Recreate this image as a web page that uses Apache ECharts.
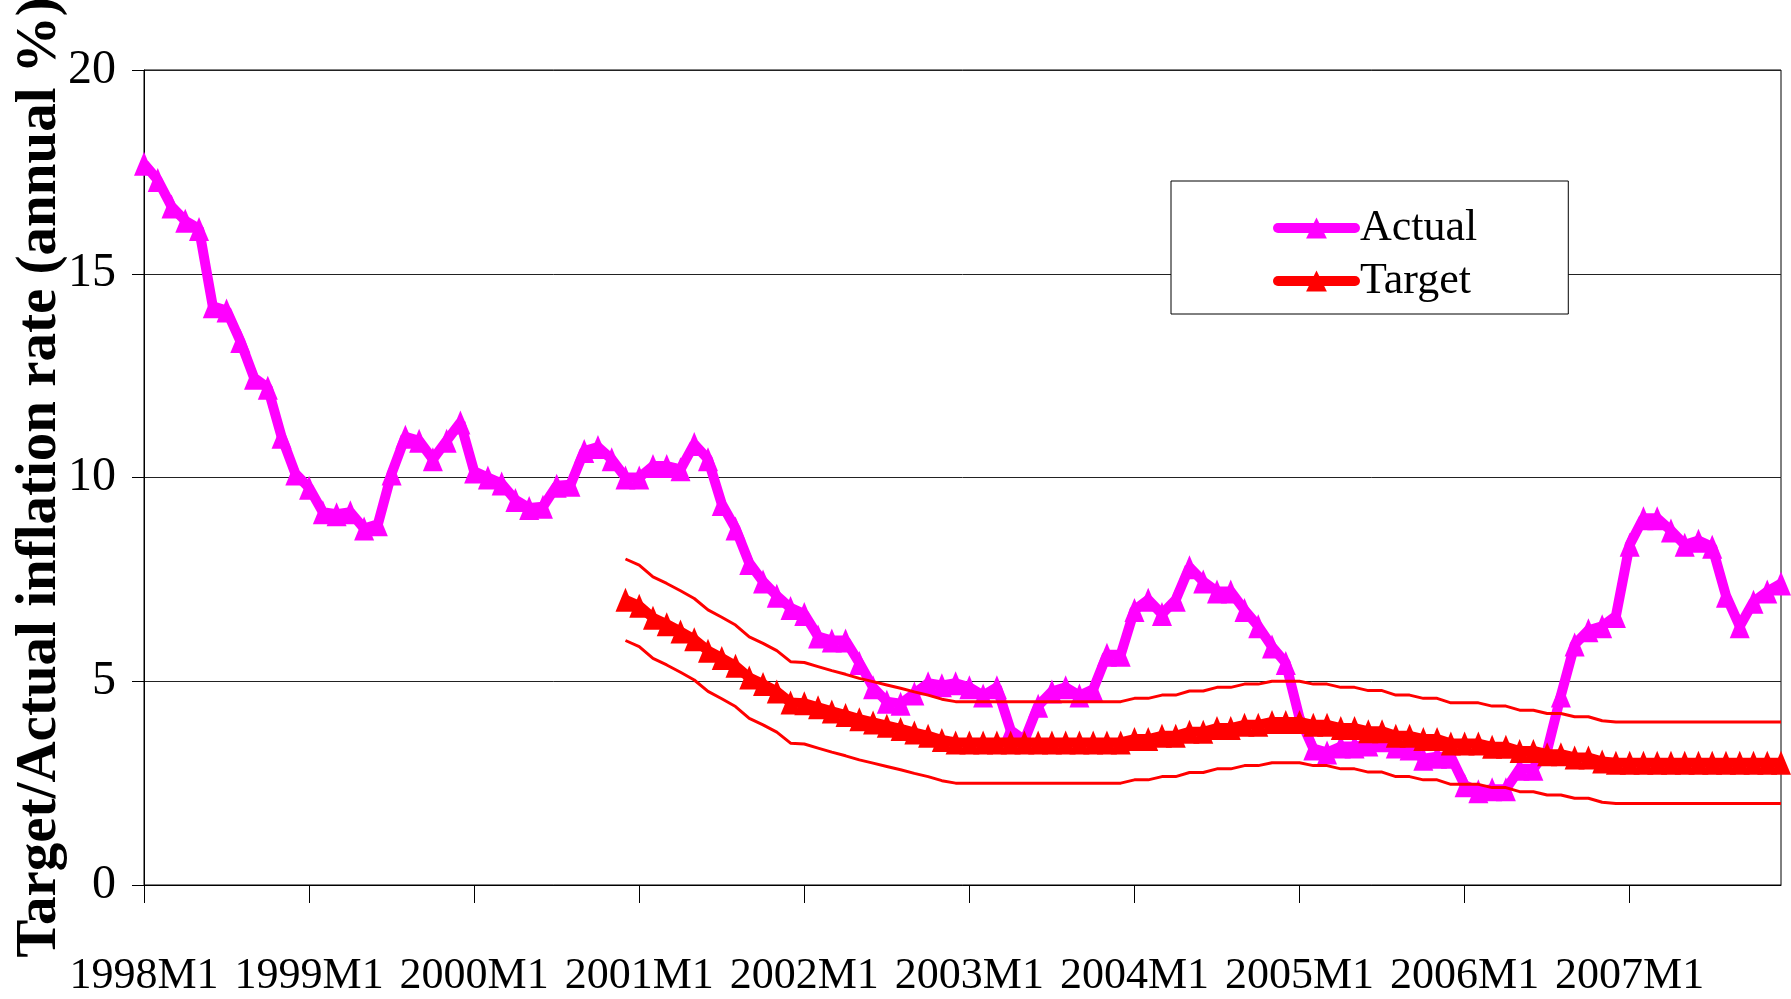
<!DOCTYPE html>
<html>
<head>
<meta charset="utf-8">
<script src="https://cdn.jsdelivr.net/npm/echarts@6/dist/echarts.min.js"></script>
<style>
html,body{margin:0;padding:0;background:#fff;}
#chart{width:1791px;height:999px;}
</style>
</head>
<body>
<div id="chart"></div>
<script>
const categories = [
 '1998M1','1998M2','1998M3','1998M4','1998M5','1998M6','1998M7','1998M8','1998M9','1998M10','1998M11','1998M12',
 '1999M1','1999M2','1999M3','1999M4','1999M5','1999M6','1999M7','1999M8','1999M9','1999M10','1999M11','1999M12',
 '2000M1','2000M2','2000M3','2000M4','2000M5','2000M6','2000M7','2000M8','2000M9','2000M10','2000M11','2000M12',
 '2001M1','2001M2','2001M3','2001M4','2001M5','2001M6','2001M7','2001M8','2001M9','2001M10','2001M11','2001M12',
 '2002M1','2002M2','2002M3','2002M4','2002M5','2002M6','2002M7','2002M8','2002M9','2002M10','2002M11','2002M12',
 '2003M1','2003M2','2003M3','2003M4','2003M5','2003M6','2003M7','2003M8','2003M9','2003M10','2003M11','2003M12',
 '2004M1','2004M2','2004M3','2004M4','2004M5','2004M6','2004M7','2004M8','2004M9','2004M10','2004M11','2004M12',
 '2005M1','2005M2','2005M3','2005M4','2005M5','2005M6','2005M7','2005M8','2005M9','2005M10','2005M11','2005M12',
 '2006M1','2006M2','2006M3','2006M4','2006M5','2006M6','2006M7','2006M8','2006M9','2006M10','2006M11','2006M12',
 '2007M1','2007M2','2007M3','2007M4','2007M5','2007M6','2007M7','2007M8','2007M9','2007M10','2007M11','2007M12'
];

// Actual inflation, 1998M1 .. 2007M12
const actual = [
 17.7,17.3,16.65,16.3,16.1,14.2,14.1,13.35,12.45,12.2,11.0,10.1,
 9.75,9.15,9.1,9.15,8.75,8.85,10.1,11.0,10.9,10.45,10.9,11.35,
 10.15,10.0,9.85,9.45,9.25,9.28,9.8,9.82,10.65,10.75,10.45,10.0,
 10.0,10.28,10.28,10.2,10.82,10.45,9.35,8.75,7.9,7.45,7.1,6.8,
 6.65,6.1,6.0,6.0,5.45,4.85,4.5,4.45,4.7,4.95,4.9,4.95,
 4.85,4.65,4.85,3.8,3.55,4.4,4.75,4.85,4.65,4.8,5.65,5.65,
 6.75,7.0,6.65,7.0,7.8,7.45,7.2,7.2,6.75,6.35,5.85,5.45,
 4.1,3.35,3.25,3.4,3.4,3.45,3.55,3.4,3.35,3.1,3.15,3.15,
 2.45,2.3,2.35,2.35,2.85,2.85,3.3,4.65,5.9,6.25,6.35,6.6,
 8.35,9.0,9.0,8.7,8.35,8.45,8.3,7.1,6.35,6.95,7.2,7.4
];

// Target path, from 2000M12 to 2007M12
const targetStart = '2000M12';
const target = [
 7.0,6.85,6.56,6.40,6.22,6.03,5.75,5.57,5.38,5.09,4.93,4.75,
 4.48,4.46,4.36,4.26,4.17,4.07,3.99,3.91,3.83,3.74,3.66,3.56,
 3.5,3.5,3.5,3.5,3.5,3.5,3.5,3.5,3.5,3.5,3.5,3.5,3.5,
 3.58,3.58,3.66,3.66,3.76,3.76,3.85,3.85,3.93,3.93,4.0,4.0,
 4.0,3.93,3.93,3.85,3.85,3.77,3.77,3.66,3.66,3.58,3.58,3.47,
 3.47,3.47,3.39,3.39,3.29,3.29,3.21,3.21,3.13,3.13,3.03,
 3.0,3.0,3.0,3.0,3.0,3.0,3.0,3.0,3.0,3.0,3.0,3.0,3.0
];
// Upper and lower edge of the target band
const upperBand = [
 8.0,7.85,7.56,7.40,7.22,7.03,6.75,6.57,6.38,6.09,5.93,5.75,
 5.48,5.46,5.36,5.26,5.17,5.07,4.99,4.91,4.83,4.74,4.66,4.56,
 4.5,4.5,4.5,4.5,4.5,4.5,4.5,4.5,4.5,4.5,4.5,4.5,4.5,
 4.58,4.58,4.66,4.66,4.76,4.76,4.85,4.85,4.93,4.93,5.0,5.0,
 5.0,4.93,4.93,4.85,4.85,4.77,4.77,4.66,4.66,4.58,4.58,4.47,
 4.47,4.47,4.39,4.39,4.29,4.29,4.21,4.21,4.13,4.13,4.03,
 4.0,4.0,4.0,4.0,4.0,4.0,4.0,4.0,4.0,4.0,4.0,4.0,4.0
];
const lowerBand = [
 6.0,5.85,5.56,5.40,5.22,5.03,4.75,4.57,4.38,4.09,3.93,3.75,
 3.48,3.46,3.36,3.26,3.17,3.07,2.99,2.91,2.83,2.74,2.66,2.56,
 2.5,2.5,2.5,2.5,2.5,2.5,2.5,2.5,2.5,2.5,2.5,2.5,2.5,
 2.58,2.58,2.66,2.66,2.76,2.76,2.85,2.85,2.93,2.93,3.0,3.0,
 3.0,2.93,2.93,2.85,2.85,2.77,2.77,2.66,2.66,2.58,2.58,2.47,
 2.47,2.47,2.39,2.39,2.29,2.29,2.21,2.21,2.13,2.13,2.03,
 2.0,2.0,2.0,2.0,2.0,2.0,2.0,2.0,2.0,2.0,2.0,2.0,2.0
];

const yTicks = [0, 5, 10, 15, 20];
const seriesNames = ['Actual', 'Target'];
const yAxisTitle = 'Target/Actual inflation rate (annual %)';

function alignToCategories(values, startLabel) {
  const start = categories.indexOf(startLabel);
  return categories.map((c, i) => (i >= start && i - start < values.length) ? values[i - start] : null);
}

const FONT = "'Liberation Serif', 'Times New Roman', serif";
const chart = echarts.init(document.getElementById('chart'), null, {renderer: 'canvas'});
chart.setOption({
  animation: false,
  backgroundColor: '#fff',
  grid: {left: 144, top: 70, width: 1637, height: 815, outerBoundsMode: 'none', containLabel: false,
         show: true, borderColor: '#000', borderWidth: 1, backgroundColor: 'transparent'},
  legend: {
    data: seriesNames,
    orient: 'vertical',
    left: 1171, top: 181,
    padding: [22, 91, 8, 102],
    itemGap: 3,
    itemWidth: 77, itemHeight: 26,
    backgroundColor: '#fff',
    borderColor: '#000', borderWidth: 1,
    lineStyle: {width: 10, cap: 'round'},
    textStyle: {fontFamily: FONT, fontSize: 44, color: '#000', lineHeight: 50}
  },
  xAxis: {
    type: 'category',
    data: categories,
    boundaryGap: false,
    axisLine: {lineStyle: {color: '#000', width: 1}},
    axisTick: {show: true, interval: 11, length: 18, lineStyle: {color: '#000'}},
    axisLabel: {interval: 11, margin: 69, fontFamily: FONT, fontSize: 44, color: '#000'},
    splitLine: {show: false}
  },
  yAxis: {
    type: 'value',
    min: yTicks[0], max: yTicks[yTicks.length - 1], interval: 5,
    name: yAxisTitle,
    nameLocation: 'middle',
    nameRotate: 90,
    nameGap: 75,
    nameMoveOverlap: false,
    nameTextStyle: {fontFamily: FONT, fontSize: 57, fontWeight: 'bold', color: '#000'},
    axisLine: {show: true, lineStyle: {color: '#000', width: 1}},
    axisTick: {show: true, length: 12, lineStyle: {color: '#000'}},
    axisLabel: {margin: 28, fontFamily: FONT, fontSize: 48, color: '#000'},
    splitLine: {show: true, lineStyle: {color: '#222', width: 1}}
  },
  series: [
    {
      name: 'Actual', type: 'line', data: actual,
      color: '#FF00FF',
      lineStyle: {color: '#FF00FF', width: 10},
      itemStyle: {color: '#FF00FF'},
      symbol: 'triangle', symbolSize: [20, 24],
      showSymbol: true, showAllSymbol: true,
      z: 3
    },
    {
      name: 'Target', type: 'line', data: alignToCategories(target, targetStart),
      color: '#FF0000',
      lineStyle: {color: '#FF0000', width: 10},
      itemStyle: {color: '#FF0000'},
      symbol: 'triangle', symbolSize: [20, 24],
      showSymbol: true, showAllSymbol: true,
      z: 4
    },
    {
      name: 'Upper band', type: 'line', data: alignToCategories(upperBand, targetStart),
      lineStyle: {color: '#FF0000', width: 3},
      itemStyle: {color: '#FF0000'},
      symbol: 'none', silent: true, z: 5
    },
    {
      name: 'Lower band', type: 'line', data: alignToCategories(lowerBand, targetStart),
      lineStyle: {color: '#FF0000', width: 3},
      itemStyle: {color: '#FF0000'},
      symbol: 'none', silent: true, z: 5
    }
  ]
});
</script>
</body>
</html>
